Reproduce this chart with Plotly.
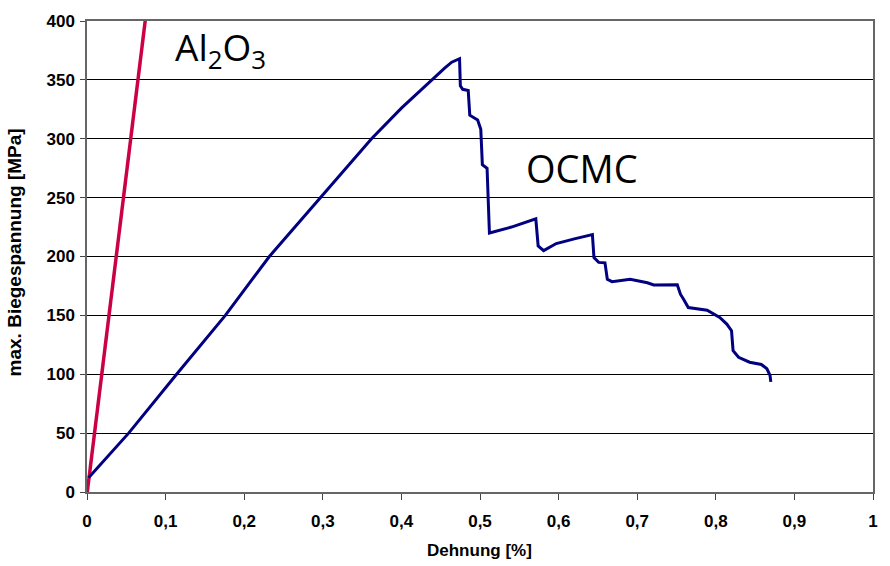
import plotly.graph_objects as go

# OCMC stress-strain curve (Dehnung in %, Spannung in MPa)
ocmc_strain = [0.002, 0.053, 0.114, 0.176, 0.232, 0.297, 0.362, 0.40, 0.438, 0.455, 0.464, 0.474,
               0.475, 0.478, 0.485, 0.487, 0.497, 0.501, 0.503, 0.509, 0.512,
               0.54, 0.571, 0.574, 0.581, 0.597, 0.62, 0.643,
               0.645, 0.651, 0.659, 0.662, 0.668, 0.691, 0.713, 0.721, 0.751,
               0.755, 0.759, 0.765, 0.789, 0.805, 0.814, 0.820, 0.822, 0.829,
               0.843, 0.858, 0.865, 0.869, 0.870]
ocmc_stress = [12, 50, 100, 150, 200, 250, 300, 326, 350, 360, 365, 368,
               345, 342, 341, 320, 316, 308, 278, 275, 220,
               225, 232, 209, 205, 211, 215, 218.6,
               199, 195, 194.6, 180.6, 178.6, 180.6, 177.7, 175.8, 176,
               168, 163.7, 156.6, 154.4, 148.2, 142.6, 137, 120, 114.4,
               110.2, 108.3, 104.6, 99, 93.5]

# Al2O3 (linear elastic, brittle)
al_strain = [0.0, 0.0755]
al_stress = [-2, 408]

x_ticks = [0, 0.1, 0.2, 0.3, 0.4, 0.5, 0.6, 0.7, 0.8, 0.9, 1.0]
x_tick_labels = ["0", "0,1", "0,2", "0,3", "0,4", "0,5", "0,6", "0,7", "0,8", "0,9", "1"]
y_ticks = [0, 50, 100, 150, 200, 250, 300, 350, 400]

fig = go.Figure()
fig.add_trace(go.Scatter(x=al_strain, y=al_stress, mode="lines",
                         line=dict(color="#CC0044", width=3.5), showlegend=False))
fig.add_trace(go.Scatter(x=ocmc_strain, y=ocmc_stress, mode="lines",
                         line=dict(color="#000080", width=3), showlegend=False))

tick_font = dict(family="Liberation Sans, Arial, sans-serif", size=17, color="black", weight="bold")

fig.update_layout(
    width=890, height=566,
    margin=dict(l=87, r=14, t=18, b=74),
    paper_bgcolor="white", plot_bgcolor="white",
    xaxis=dict(range=[0, 1], tickvals=x_ticks, ticktext=x_tick_labels,
               showgrid=False, zeroline=False, showline=True, mirror=True,
               linecolor="#666666", linewidth=1.5,
               ticks="outside", ticklen=6, tickcolor="#444444",
               tickfont=tick_font, ticklabelstandoff=7),
    yaxis=dict(range=[0, 400], tickvals=y_ticks,
               showgrid=True, gridcolor="black", gridwidth=1,
               zeroline=False, showline=True, mirror=True,
               linecolor="#666666", linewidth=1.5,
               ticks="outside", ticklen=5, tickcolor="#444444",
               tickfont=tick_font, ticklabelstandoff=2),
    annotations=[
        dict(text="<b>Dehnung [%]</b>", xref="paper", yref="paper",
             x=0.499, y=-0.1245, xanchor="center", yanchor="middle", showarrow=False,
             font=dict(family="Liberation Sans, Arial, sans-serif", size=17, color="black")),
        dict(text="<b>max. Biegespannung [MPa]</b>", xref="paper", yref="paper",
             x=-0.092, y=0.508, xanchor="center", yanchor="middle", textangle=-90,
             showarrow=False,
             font=dict(family="Liberation Sans, Arial, sans-serif", size=19, color="black")),
        dict(text="Al<sub>2</sub>O<sub>3</sub>", x=0.170, y=376, xref="x", yref="y",
             xanchor="center", yanchor="middle", showarrow=False,
             font=dict(family="Open Sans, sans-serif", size=37, color="black")),
        dict(text="OCMC", x=0.63, y=275, xref="x", yref="y",
             xanchor="center", yanchor="middle", showarrow=False,
             font=dict(family="Open Sans, sans-serif", size=38, color="black")),
    ],
)

fig.write_html("out.html",
               config={"displayModeBar": False},
               post_script="document.body.style.margin='0';document.body.style.overflow='hidden';")
